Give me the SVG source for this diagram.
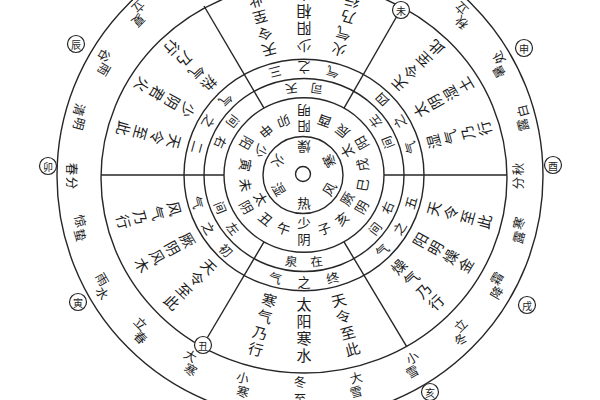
<svg xmlns="http://www.w3.org/2000/svg" width="600" height="400" viewBox="0 0 600 400">
<defs>
<style>
.ln{fill:none;stroke:#262626;stroke-width:1.4}
.mk{fill:#fff;stroke:#262626;stroke-width:1.2}
.t{font-family:"Noto Sans CJK SC","Noto Sans CJK TC",sans-serif;fill:#1c1c1c;text-anchor:middle;dominant-baseline:central}
.s0{font-size:13.5px}
.s1{font-size:12.5px}
.s2{font-size:13px}
.col{font-size:15px;writing-mode:vertical-rl;letter-spacing:2.5px}
.col2{font-size:13.5px;writing-mode:vertical-rl;letter-spacing:3.5px}
.mt{font-size:10px}
.ot{font-size:12.5px}
</style>
</defs>
<rect width="600" height="400" fill="#fff"/>
<g id="rings">
<circle class="ln" cx="303" cy="174" r="7.5"/>
<ellipse class="ln" cx="303" cy="175" rx="40" ry="38.5"/>
<ellipse class="ln" cx="304" cy="175" rx="80" ry="77.2"/>
<ellipse class="ln" cx="304" cy="175" rx="100" ry="96.5"/>
<ellipse class="ln" cx="304" cy="175" rx="120" ry="115.8"/>
<ellipse class="ln" cx="304" cy="178" rx="203" ry="195"/>
<circle class="ln" cx="300" cy="176" r="243"/>
</g>
<g id="connectors">
<line class="ln" x1="384" y1="175" x2="507" y2="175"/>
<line class="ln" x1="344" y1="241.9" x2="406.7" y2="346.6"/>
<line class="ln" x1="264" y1="241.9" x2="203" y2="345"/>
<line class="ln" x1="224" y1="175" x2="101" y2="175"/>
<line class="ln" x1="264" y1="108.1" x2="204" y2="6"/>
<line class="ln" x1="344" y1="108.1" x2="401" y2="9"/>
</g>
<g id="center-ring" class="t s0" transform="translate(304,175) scale(1,0.965)">
<text transform="rotate(180)" y="29">燥</text>
<text transform="rotate(240)" y="29">寒</text>
<text transform="rotate(-60)" y="29">风</text>
<text transform="rotate(0)" y="29">热</text>
<text transform="rotate(60)" y="29">湿</text>
<text transform="rotate(120)" y="29">火</text>
</g>
<g id="branch-ring" class="t s0" transform="translate(304,175) scale(1,0.965)">
<text transform="rotate(160)" y="59">卯</text>
<text transform="rotate(200)" y="59">酉</text>
<text transform="rotate(220)" y="59">辰</text>
<text transform="rotate(260)" y="59">戌</text>
<text transform="rotate(-80)" y="59">巳</text>
<text transform="rotate(-40)" y="59">亥</text>
<text transform="rotate(-20)" y="59">子</text>
<text transform="rotate(20)" y="59">午</text>
<text transform="rotate(40)" y="59">丑</text>
<text transform="rotate(80)" y="59">未</text>
<text transform="rotate(100)" y="59">寅</text>
<text transform="rotate(140)" y="59">申</text>
<text class="col2" transform="rotate(180)" x="0" y="60">阳明</text>
<text class="col2" transform="rotate(240)" x="0" y="60">太阳</text>
<text class="col2" transform="rotate(-60)" x="0" y="60">厥阴</text>
<text class="col2" transform="rotate(0)" x="0" y="60">少阴</text>
<text class="col2" transform="rotate(60)" x="0" y="60">太阴</text>
<text class="col2" transform="rotate(120)" x="0" y="60">少阳</text>
</g>
<g id="sitian-ring" class="t s1" transform="translate(304,175) scale(1,0.965)">
<text transform="rotate(172)" y="90">天</text>
<text transform="rotate(188)" y="90">司</text>
<text transform="rotate(232)" y="90">左</text>
<text transform="rotate(248)" y="90">间</text>
<text transform="rotate(-68)" y="90">右</text>
<text transform="rotate(-52)" y="90">间</text>
<text transform="rotate(-8)" y="90">在</text>
<text transform="rotate(8)" y="90">泉</text>
<text transform="rotate(52)" y="90">左</text>
<text transform="rotate(68)" y="90">间</text>
<text transform="rotate(112)" y="90">右</text>
<text transform="rotate(128)" y="90">间</text>
</g>
<g id="qi-ring" class="t s2" transform="translate(304,175) scale(1,0.965)">
<text transform="rotate(165)" y="110">三</text>
<text transform="rotate(180)" y="110">之</text>
<text transform="rotate(195)" y="110">气</text>
<text transform="rotate(225)" y="110">四</text>
<text transform="rotate(240)" y="110">之</text>
<text transform="rotate(255)" y="110">气</text>
<text transform="rotate(-75)" y="110">五</text>
<text transform="rotate(-60)" y="110">之</text>
<text transform="rotate(-45)" y="110">气</text>
<text transform="rotate(-15)" y="110">终</text>
<text transform="rotate(0)" y="110">之</text>
<text transform="rotate(15)" y="110">气</text>
<text transform="rotate(45)" y="110">初</text>
<text transform="rotate(60)" y="110">之</text>
<text transform="rotate(75)" y="110">气</text>
<text transform="rotate(105)" y="110">二</text>
<text transform="rotate(120)" y="110">之</text>
<text transform="rotate(135)" y="110">气</text>
</g>
<g id="text-ring" class="t col" transform="translate(304,175) scale(1,0.965)">
<text transform="rotate(-15)" x="0" y="162">天令至此</text>
<text transform="rotate(0)" x="0" y="162">太阳寒水</text>
<text transform="rotate(15)" x="0" y="162">寒气乃行</text>
<text transform="rotate(45)" x="0" y="162">天令至此</text>
<text transform="rotate(60)" x="0" y="162">厥阴风木</text>
<text transform="rotate(75)" x="0" y="162">风气乃行</text>
<text transform="rotate(105)" x="0" y="162">天令至此</text>
<text transform="rotate(120)" x="0" y="162">少阴君火</text>
<text transform="rotate(135)" x="0" y="162">热气乃行</text>
<text transform="rotate(165)" x="0" y="162">天令至此</text>
<text transform="rotate(180)" x="0" y="162">少阳相火</text>
<text transform="rotate(195)" x="0" y="162">火气乃行</text>
<text transform="rotate(225)" x="0" y="162">天令至此</text>
<text transform="rotate(240)" x="0" y="162">太阴湿土</text>
<text transform="rotate(255)" x="0" y="162">湿气乃行</text>
<text transform="rotate(-75)" x="0" y="162">天令至此</text>
<text transform="rotate(-60)" x="0" y="162">阳明燥金</text>
<text transform="rotate(-45)" x="0" y="162">燥气乃行</text>
</g>
<g id="terms" class="t ot">
<text transform="rotate(135 139 7)" x="139" y="7">立</text><text transform="rotate(135 139 21)" x="139" y="21">夏</text>
<text transform="rotate(120 105 56)" x="105" y="56">谷</text><text transform="rotate(120 105 70)" x="105" y="70">雨</text>
<text transform="rotate(105 80 110)" x="80" y="110">清</text><text transform="rotate(105 80 124)" x="80" y="124">明</text>
<text transform="rotate(90 72 169)" x="72" y="169">春</text><text transform="rotate(90 72 183)" x="72" y="183">分</text>
<text transform="rotate(75 81 221)" x="81" y="221">惊</text><text transform="rotate(75 81 235)" x="81" y="235">蛰</text>
<text transform="rotate(60 103 279)" x="103" y="279">雨</text><text transform="rotate(60 103 293)" x="103" y="293">水</text>
<text transform="rotate(45 141 323)" x="141" y="323">立</text><text transform="rotate(45 141 337)" x="141" y="337">春</text>
<text transform="rotate(30 191 355)" x="191" y="355">大</text><text transform="rotate(30 191 369)" x="191" y="369">寒</text>
<text transform="rotate(15 243 377)" x="243" y="377">小</text><text transform="rotate(15 243 391)" x="243" y="391">寒</text>
<text x="300" y="381">冬</text><text x="300" y="398">至</text>
<text transform="rotate(-15 356 377)" x="356" y="377">大</text><text transform="rotate(-15 356 391)" x="356" y="391">雪</text>
<text transform="rotate(-30 412 357)" x="412" y="357">小</text><text transform="rotate(-30 412 371)" x="412" y="371">雪</text>
<text transform="rotate(-45 460 325)" x="460" y="325">立</text><text transform="rotate(-45 460 339)" x="460" y="339">冬</text>
<text transform="rotate(-60 496 278)" x="496" y="278">霜</text><text transform="rotate(-60 496 292)" x="496" y="292">降</text>
<text transform="rotate(-75 518 223)" x="518" y="223">寒</text><text transform="rotate(-75 518 237)" x="518" y="237">露</text>
<text transform="rotate(-90 517 169)" x="517" y="169">秋</text><text transform="rotate(-90 517 183)" x="517" y="183">分</text>
<text transform="rotate(-105 522 111)" x="522" y="111">白</text><text transform="rotate(-105 522 125)" x="522" y="125">露</text>
<text transform="rotate(-120 498 58)" x="498" y="58">处</text><text transform="rotate(-120 498 72)" x="498" y="72">暑</text>
<text transform="rotate(-135 461 9)" x="461" y="9">立</text><text transform="rotate(-135 461 23)" x="461" y="23">秋</text>
</g>
<g id="markers">
<g id="m-chen"><circle class="mk" cx="76" cy="44" r="8.5"/><text class="t mt" x="76" y="44">辰</text></g>
<g id="m-mao"><circle class="mk" cx="48" cy="166" r="8.5"/><text class="t mt" x="48" y="166">卯</text></g>
<g id="m-yin"><circle class="mk" cx="78" cy="302" r="8.5"/><text class="t mt" x="78" y="302">寅</text></g>
<g id="m-chou"><circle class="mk" cx="203" cy="345" r="8.5"/><text class="t mt" x="203" y="345">丑</text></g>
<g id="m-hai"><circle class="mk" cx="430" cy="392" r="8.5"/><text class="t mt" x="430" y="392">亥</text></g>
<g id="m-xu"><circle class="mk" cx="527" cy="305" r="8.5"/><text class="t mt" x="527" y="305">戌</text></g>
<g id="m-you"><circle class="mk" cx="553" cy="165" r="8.5"/><text class="t mt" x="553" y="165">酉</text></g>
<g id="m-shen"><circle class="mk" cx="524" cy="48" r="8.5"/><text class="t mt" x="524" y="48">申</text></g>
<g id="m-wei"><circle class="mk" cx="401" cy="10" r="8.5"/><text class="t mt" x="401" y="10">未</text></g>
</g>
</svg>
